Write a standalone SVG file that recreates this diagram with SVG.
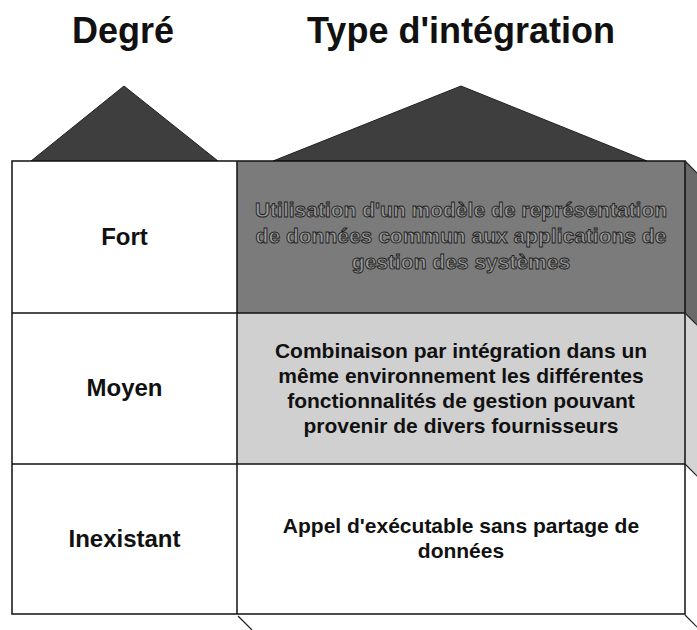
<svg xmlns="http://www.w3.org/2000/svg" width="697" height="630" viewBox="0 0 697 630">
<style>
.title{font-family:"Liberation Sans",Arial,sans-serif;font-weight:bold;font-size:36px;fill:#111;text-anchor:middle}
.lbl{font-family:"Liberation Sans",Arial,sans-serif;font-weight:bold;font-size:24px;fill:#111;text-anchor:middle}
.txt{font-family:"Liberation Sans",Arial,sans-serif;font-weight:bold;font-size:21px;fill:#111;text-anchor:middle}
.txt-emb{font-family:"Liberation Sans",Arial,sans-serif;font-weight:bold;font-size:21px;fill:#9a9a9a;stroke:#1e1e1e;stroke-width:0.9;text-anchor:middle}
.roof{fill:#3e3e3e;stroke:#222;stroke-width:1}
.edge{stroke:#111;stroke-width:1.5;fill:none}
.tick{stroke:#222;stroke-width:1.2;fill:none}
</style>
<rect width="697" height="630" fill="#fff"/>
<g id="titles">
<text class="title" x="123" y="43">Degré</text>
<text class="title" x="461" y="43">Type d'intégration</text>
</g>
<g id="roofs">
<polygon class="roof" points="31,161 124,86 218,161"/>
<polygon class="roof" points="273,161 461,86 647,161"/>
</g>
<g id="side-face">
<polygon points="685,161 699,175 699,327 685,313" fill="#6a6a6a"/>
<polygon points="685,313 699,327 699,478 685,464" fill="#d4d4d4"/>
</g>
<g id="row-fort">
<rect x="12" y="161" width="225" height="152" fill="#fff"/>
<rect x="237" y="161" width="448" height="152" fill="#7b7b7b"/>
<text class="lbl" x="124.5" y="245">Fort</text>
<text class="txt-emb" x="461" y="217">Utilisation d'un modèle de représentation</text>
<text class="txt-emb" x="461" y="243">de données commun aux applications de</text>
<text class="txt-emb" x="461" y="269">gestion des systèmes</text>
</g>
<g id="row-moyen">
<rect x="12" y="313" width="225" height="151" fill="#fff"/>
<rect x="237" y="313" width="448" height="151" fill="#d0d0d0"/>
<text class="lbl" x="124.5" y="396">Moyen</text>
<text class="txt" x="461" y="358">Combinaison par intégration dans un</text>
<text class="txt" x="461" y="383">même environnement les différentes</text>
<text class="txt" x="461" y="408">fonctionnalités de gestion pouvant</text>
<text class="txt" x="461" y="433">provenir de divers fournisseurs</text>
</g>
<g id="row-inexistant">
<rect x="12" y="464" width="225" height="150" fill="#fff"/>
<rect x="237" y="464" width="448" height="150" fill="#fff"/>
<text class="lbl" x="124.5" y="547">Inexistant</text>
<text class="txt" x="461" y="533">Appel d'exécutable sans partage de</text>
<text class="txt" x="461" y="558">données</text>
</g>
<g id="connectors">
<rect class="edge" x="12" y="161" width="673" height="453"/>
<line class="edge" x1="237" y1="161" x2="237" y2="614"/>
<line class="edge" x1="12" y1="313" x2="685" y2="313"/>
<line class="edge" x1="12" y1="464" x2="685" y2="464"/>
<line class="tick" x1="685" y1="161" x2="699" y2="175"/>
<line class="tick" x1="685" y1="313" x2="699" y2="327"/>
<line class="tick" x1="685" y1="464" x2="699" y2="478"/>
<line class="tick" x1="685" y1="615" x2="699" y2="629"/>
<line class="tick" x1="238" y1="616" x2="252" y2="630"/>
</g>
</svg>
